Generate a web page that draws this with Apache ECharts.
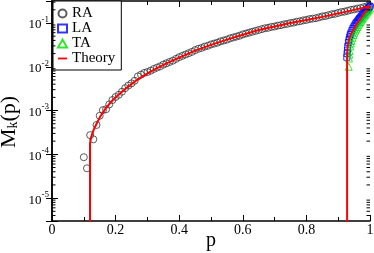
<!DOCTYPE html>
<html><head><meta charset="utf-8">
<script src="https://cdn.jsdelivr.net/npm/echarts@6/dist/echarts.min.js"></script>
<style>html,body{margin:0;padding:0;background:#fff}#c{width:374px;height:253px}</style>
</head><body><div id="c"></div>
<script>
// ---- data ----
const raP = [0.10,0.11,0.12,0.13,0.14,0.15,0.16,0.17,0.18,0.19,0.20,0.21,0.22,0.23,0.24,0.25,0.26,0.27,0.28,0.29,
  0.30,0.31,0.32,0.33,0.34,0.35,0.36,0.37,0.38,0.39,0.40,0.41,0.42,0.43,0.44,0.45,0.46,0.47,0.48,0.49,
  0.50,0.51,0.52,0.53,0.54,0.55,0.56,0.57,0.58,0.59,0.60,0.61,0.62,0.63,0.64,0.65,0.66,0.67,0.68,0.69,
  0.70,0.71,0.72,0.73,0.74,0.75,0.76,0.77,0.78,0.79,0.80,0.81,0.82,0.83,0.84,0.85,0.86,0.87,0.88,0.89,
  0.90,0.91,0.92,0.93,0.94,0.95,0.96,0.97,0.98,0.99,1.00];
const raM = [8.6e-5,4.8e-5,2.75e-4,2.2e-4,4.68e-4,7.59e-4,1.02e-3,1.07e-3,1.38e-3,1.74e-3,
  2.04e-3,2.29e-3,2.69e-3,3.24e-3,3.72e-3,4.17e-3,4.79e-3,6.03e-3,6.61e-3,7.24e-3,
  7.59e-3,8.13e-3,8.91e-3,9.55e-3,1.023e-2,1.122e-2,1.202e-2,1.288e-2,1.380e-2,1.514e-2,
  1.660e-2,1.778e-2,1.905e-2,2.042e-2,2.188e-2,2.399e-2,2.570e-2,2.692e-2,2.884e-2,3.020e-2,
  3.236e-2,3.388e-2,3.548e-2,3.802e-2,3.981e-2,4.169e-2,4.467e-2,4.677e-2,4.898e-2,5.129e-2,
  5.495e-2,5.754e-2,6.026e-2,6.310e-2,6.607e-2,6.918e-2,7.244e-2,7.586e-2,7.762e-2,8.128e-2,
  8.318e-2,8.710e-2,8.913e-2,9.333e-2,9.550e-2,0.1000,0.1023,0.1072,0.1096,0.1148,
  0.1175,0.1230,0.1259,0.1288,0.1349,0.1413,0.1445,0.1514,0.1585,0.1622,
  0.1698,0.1778,0.1820,0.1905,0.1995,0.2042,0.2138,0.2188,0.2291,0.2399,0.2455];

const laP = [0.927,0.928,0.929,0.930,0.932,0.934,0.936,0.938,0.940,0.943,0.946,0.949,0.952,0.955,0.958,
  0.961,0.964,0.967,0.970,0.973,0.976,0.979,0.982,0.985,0.988,0.991,0.994,0.997,1.000];
const laM = [0.0165,0.020,0.024,0.029,0.036,0.042,0.048,0.054,0.059,0.067,0.075,0.082,0.089,0.097,0.104,
  0.111,0.119,0.127,0.135,0.144,0.153,0.162,0.172,0.182,0.193,0.204,0.215,0.226,0.238];

const taP = [0.933,0.934,0.935,0.936,0.938,0.940,0.942,0.945,0.948,0.951,0.954,0.957,0.960,0.963,0.966,
  0.969,0.972,0.975,0.978,0.981,0.984,0.987,0.990,0.993,0.996,1.000];
const taM = [0.0100,0.0155,0.019,0.023,0.029,0.034,0.039,0.046,0.053,0.060,0.067,0.074,0.081,0.089,0.097,
  0.105,0.113,0.122,0.131,0.141,0.151,0.162,0.174,0.186,0.199,0.215];

const th1P = [0.1195,0.1195,0.125,0.13,0.14,0.15,0.16,0.17,0.18,0.19,0.20,0.22,0.24,0.26,0.28,0.30,0.33,0.36,
  0.40,0.45,0.50,0.55,0.60,0.65,0.70,0.75,0.80,0.85,0.90,0.95,1.00];
const th1M = [1e-8,1.8e-4,2.75e-4,3.47e-4,5.0e-4,6.9e-4,9.1e-4,1.15e-3,1.41e-3,1.70e-3,2.0e-3,2.69e-3,3.55e-3,
  4.57e-3,5.75e-3,7.08e-3,9.33e-3,1.20e-2,1.62e-2,2.34e-2,3.16e-2,4.17e-2,5.37e-2,6.92e-2,8.32e-2,0.1,
  0.1175,0.138,0.166,0.1995,0.24];

const th2P = [0.928,0.928,0.930,0.935,0.940,0.950,0.960,0.970,0.980,0.990,1.000];
const th2M = [1e-8,0.020,0.032,0.045,0.056,0.075,0.100,0.125,0.160,0.200,0.245];

const xTicks = [0, 0.2, 0.4, 0.6, 0.8, 1];
const yMin = 3.0e-6, yMax = 0.318;
const minorMant = [2,3,4,5,6,7,8,9];
const minorDec = [1e-6,1e-5,1e-4,1e-3,1e-2,1e-1];

const yMinor = [];
minorDec.forEach(d => minorMant.forEach(m => { const v = m*d; if (v > yMin*1.01 && v < yMax) yMinor.push(v); }));

const zip = (a, b) => a.map((v, i) => [v, b[i]]);
const SERIF = 'Liberation Serif';

const chart = echarts.init(document.getElementById('c'), null, {renderer: 'canvas'});
const axisCommonX = {
  type: 'value', min: 0, max: 1, interval: 0.2,
  axisLine: {show: true, lineStyle: {color: '#000', width: 1.5}},
  axisTick: {show: true, inside: true, length: 6, lineStyle: {color: '#000', width: 1}},
  minorTick: {show: true, splitNumber: 2, length: 4, lineStyle: {color: '#000', width: 1}},
  splitLine: {show: false}, minorSplitLine: {show: false}
};
const axisCommonY = {
  type: 'log', logBase: 10, min: yMin, max: yMax,
  axisLine: {show: true, lineStyle: {color: '#000', width: 1.5}},
  axisTick: {show: true, inside: true, length: 6, lineStyle: {color: '#000', width: 1}},
  splitLine: {show: false}
};

chart.setOption({
  animation: false,
  backgroundColor: '#fff',
  grid: {left: 52, right: 4, top: 1, bottom: 32, containLabel: false, outerBoundsMode: 'none'},
  legend: {
    orient: 'vertical', left: 53, top: 1, itemGap: 0, itemWidth: 9, itemHeight: 8,
    padding: [5, 6, 4, 4], borderColor: '#000', borderWidth: 1, backgroundColor: '#fff',
    textStyle: {fontFamily: SERIF, fontSize: 15, lineHeight: 13, color: '#000'},
    data: [{name: 'RA', icon: 'circle'}, {name: 'LA', icon: 'rect'}, {name: 'TA', icon: 'triangle'},
           {name: 'Theory', icon: 'path://M0,0 L9,0 L9,1.8 L0,1.8 Z', itemStyle: {color: '#ff0000'}}]
  },
  xAxis: [
    Object.assign({}, axisCommonX, {
      position: 'bottom', name: 'p', nameLocation: 'middle', nameGap: 10, nameMoveOverlap: false,
      nameTextStyle: {fontFamily: SERIF, fontSize: 20, color: '#000'},
      axisLabel: {show: true, margin: 2, fontFamily: SERIF, fontSize: 14, color: '#000',
        formatter: v => (xTicks.some(t => Math.abs(t - v) < 1e-9) ? String(+v.toFixed(1)) : '')}
    }),
    Object.assign({}, axisCommonX, {position: 'top', axisLabel: {show: false}})
  ],
  yAxis: [
    Object.assign({}, axisCommonY, {
      position: 'left', name: '{m|M}{k|k}{m|(p)}', nameLocation: 'middle', nameGap: 32, nameMoveOverlap: false,
      nameTextStyle: {fontFamily: SERIF, color: '#000', padding: [0, 22, 0, 0],
        rich: {m: {fontFamily: SERIF, fontSize: 22, color: '#000'},
               k: {fontFamily: SERIF, fontSize: 14, color: '#000', verticalAlign: 'bottom'}}},
      axisLabel: {show: true, margin: 3, color: '#000',
        formatter: v => { const l = Math.log10(v); const e = Math.round(l);
          if (Math.abs(l - e) > 0.01) return ''; return '{b|10}{s|' + e + '}'; },
        rich: {b: {fontFamily: SERIF, fontSize: 13, color: '#000', padding: [4, 0, 0, 0]},
               s: {fontFamily: SERIF, fontSize: 9, color: '#000', padding: [0, 0, 7, 0]}}}
    }),
    Object.assign({}, axisCommonY, {position: 'right', axisLabel: {show: false}})
  ],
  series: [
    {name: 'RA', type: 'scatter', symbol: 'circle', symbolSize: 7, data: zip(raP, raM),
      itemStyle: {color: 'rgba(0,0,0,0)', borderColor: '#333', borderWidth: 1}, z: 2},
    {name: 'LA', type: 'scatter', symbol: 'rect', symbolSize: 6, data: zip(laP, laM),
      itemStyle: {color: 'rgba(0,0,0,0)', borderColor: '#0000ff', borderWidth: 1}, z: 2},
    {name: 'TA', type: 'scatter', symbol: 'triangle', symbolSize: 7, data: zip(taP, taM),
      itemStyle: {color: 'rgba(0,0,0,0)', borderColor: '#00e000', borderWidth: 1}, z: 2},
    {name: 'Theory', type: 'line', symbol: 'none', data: zip(th1P, th1M), clip: true,
      lineStyle: {color: '#ff0000', width: 2}, itemStyle: {color: '#ff0000'}, z: 3},
    {name: 'Theory', type: 'line', symbol: 'none', data: zip(th2P, th2M), clip: true,
      lineStyle: {color: '#ff0000', width: 2}, itemStyle: {color: '#ff0000'}, z: 3},
    {type: 'custom', silent: true, z: 4, data: yMinor.map(v => [0, v]),
      renderItem: (params, api) => {
        const v = api.value(1);
        const a = api.coord([0, v]), b = api.coord([1, v]);
        return {type: 'group', children: [
          {type: 'line', shape: {x1: a[0], y1: a[1], x2: a[0] + 3.5, y2: a[1]}, style: {stroke: '#000', lineWidth: 1}},
          {type: 'line', shape: {x1: b[0], y1: b[1], x2: b[0] - 3.5, y2: b[1]}, style: {stroke: '#000', lineWidth: 1}}
        ]};
      }}
  ]
});
</script>
</body></html>
